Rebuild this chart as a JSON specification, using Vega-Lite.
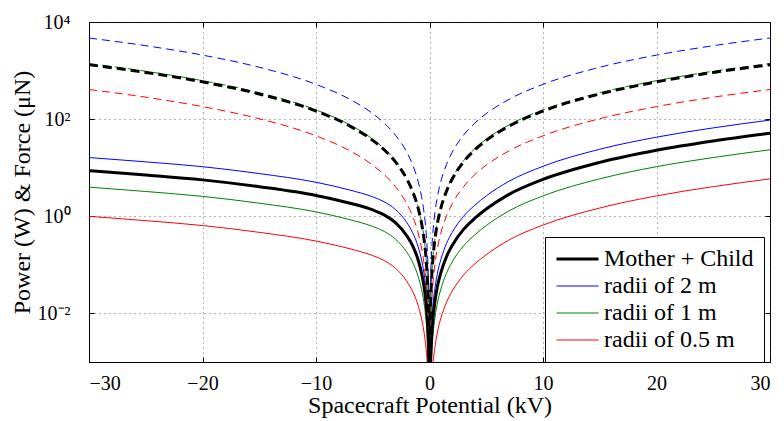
{
"$schema":"https://vega.github.io/schema/vega-lite/v6.json",
"width":681,"height":340,
"autosize":{"type":"none"},
"padding":{"left":89,"top":22,"right":14,"bottom":59},
"background":"white",
"config":{
 "view":{"stroke":"black","strokeWidth":1},
 "font":"Liberation Serif",
 "axis":{"labelFont":"Liberation Serif","titleFont":"Liberation Serif","labelFontSize":20,"titleFontSize":24,"titleFontWeight":"normal","labelColor":"black","titleColor":"black","tickColor":"black","domainColor":"black","tickSize":-5,"gridDash":[1,4],"gridColor":"#333333","gridOpacity":0.75},
 "legend":{"orient":"none","legendX":456,"legendY":215,"symbolType":"M-1,0L3,0","symbolSize":441,"labelFont":"Liberation Serif","labelFontSize":24,"labelColor":"black","padding":10,"strokeColor":"black","fillColor":"white","labelOffset":25,"rowPadding":3,"cornerRadius":0,"symbolFillColor":"transparent"}
},
"data":{"values":[
{"s":"Mother + Child","d":0,"V":-30,"P":8.71},{"s":"Mother + Child","d":0,"V":-25,"P":7.08},{"s":"Mother + Child","d":0,"V":-20,"P":5.62},{"s":"Mother + Child","d":0,"V":-15,"P":4.07},{"s":"Mother + Child","d":0,"V":-10,"P":2.69},{"s":"Mother + Child","d":0,"V":-7,"P":1.86},{"s":"Mother + Child","d":0,"V":-5,"P":1.35},{"s":"Mother + Child","d":0,"V":-4,"P":1.07},{"s":"Mother + Child","d":0,"V":-3,"P":0.741},{"s":"Mother + Child","d":0,"V":-2,"P":0.398},{"s":"Mother + Child","d":0,"V":-1.5,"P":0.251},{"s":"Mother + Child","d":0,"V":-1,"P":0.126},{"s":"Mother + Child","d":0,"V":-0.7,"P":0.0676},{"s":"Mother + Child","d":0,"V":-0.5,"P":0.038},{"s":"Mother + Child","d":0,"V":-0.3,"P":0.0158},{"s":"Mother + Child","d":0,"V":-0.2,"P":0.00794},{"s":"Mother + Child","d":0,"V":-0.1,"P":0.00224},{"s":"Mother + Child","d":0,"V":-0.05,"P":0.000708},{"s":"Mother + Child","d":0,"V":0,"P":0.00001},{"s":"Mother + Child","d":0,"V":0.05,"P":0.000316},{"s":"Mother + Child","d":0,"V":0.1,"P":0.001},{"s":"Mother + Child","d":0,"V":0.2,"P":0.00355},{"s":"Mother + Child","d":0,"V":0.3,"P":0.00759},{"s":"Mother + Child","d":0,"V":0.5,"P":0.0191},{"s":"Mother + Child","d":0,"V":0.7,"P":0.0363},{"s":"Mother + Child","d":0,"V":1,"P":0.0692},{"s":"Mother + Child","d":0,"V":1.5,"P":0.148},{"s":"Mother + Child","d":0,"V":2,"P":0.251},{"s":"Mother + Child","d":0,"V":3,"P":0.537},{"s":"Mother + Child","d":0,"V":4,"P":0.912},{"s":"Mother + Child","d":0,"V":5,"P":1.41},{"s":"Mother + Child","d":0,"V":7,"P":2.82},{"s":"Mother + Child","d":0,"V":10,"P":5.75},{"s":"Mother + Child","d":0,"V":15,"P":12.9},{"s":"Mother + Child","d":0,"V":20,"P":22.9},{"s":"Mother + Child","d":0,"V":25,"P":35.5},{"s":"Mother + Child","d":0,"V":30,"P":51.3},
{"s":"radii of 2 m","d":0,"V":-30,"P":16.2},{"s":"radii of 2 m","d":0,"V":-25,"P":13.2},{"s":"radii of 2 m","d":0,"V":-20,"P":10.5},{"s":"radii of 2 m","d":0,"V":-15,"P":7.58},{"s":"radii of 2 m","d":0,"V":-10,"P":5.01},{"s":"radii of 2 m","d":0,"V":-7,"P":3.46},{"s":"radii of 2 m","d":0,"V":-5,"P":2.51},{"s":"radii of 2 m","d":0,"V":-4,"P":1.99},{"s":"radii of 2 m","d":0,"V":-3,"P":1.38},{"s":"radii of 2 m","d":0,"V":-2,"P":0.741},{"s":"radii of 2 m","d":0,"V":-1.5,"P":0.467},{"s":"radii of 2 m","d":0,"V":-1,"P":0.235},{"s":"radii of 2 m","d":0,"V":-0.7,"P":0.126},{"s":"radii of 2 m","d":0,"V":-0.5,"P":0.0708},{"s":"radii of 2 m","d":0,"V":-0.3,"P":0.0294},{"s":"radii of 2 m","d":0,"V":-0.2,"P":0.0148},{"s":"radii of 2 m","d":0,"V":-0.1,"P":0.00417},{"s":"radii of 2 m","d":0,"V":-0.05,"P":0.00132},{"s":"radii of 2 m","d":0,"V":0,"P":0.00001},{"s":"radii of 2 m","d":0,"V":0.05,"P":0.000588},{"s":"radii of 2 m","d":0,"V":0.1,"P":0.00186},{"s":"radii of 2 m","d":0,"V":0.2,"P":0.00661},{"s":"radii of 2 m","d":0,"V":0.3,"P":0.0141},{"s":"radii of 2 m","d":0,"V":0.5,"P":0.0356},{"s":"radii of 2 m","d":0,"V":0.7,"P":0.0676},{"s":"radii of 2 m","d":0,"V":1,"P":0.129},{"s":"radii of 2 m","d":0,"V":1.5,"P":0.276},{"s":"radii of 2 m","d":0,"V":2,"P":0.467},{"s":"radii of 2 m","d":0,"V":3,"P":1.0},{"s":"radii of 2 m","d":0,"V":4,"P":1.7},{"s":"radii of 2 m","d":0,"V":5,"P":2.63},{"s":"radii of 2 m","d":0,"V":7,"P":5.25},{"s":"radii of 2 m","d":0,"V":10,"P":10.7},{"s":"radii of 2 m","d":0,"V":15,"P":24.0},{"s":"radii of 2 m","d":0,"V":20,"P":42.6},{"s":"radii of 2 m","d":0,"V":25,"P":66.1},{"s":"radii of 2 m","d":0,"V":30,"P":95.5},
{"s":"radii of 1 m","d":0,"V":-30,"P":3.98},{"s":"radii of 1 m","d":0,"V":-25,"P":3.24},{"s":"radii of 1 m","d":0,"V":-20,"P":2.57},{"s":"radii of 1 m","d":0,"V":-15,"P":1.86},{"s":"radii of 1 m","d":0,"V":-10,"P":1.23},{"s":"radii of 1 m","d":0,"V":-7,"P":0.85},{"s":"radii of 1 m","d":0,"V":-5,"P":0.617},{"s":"radii of 1 m","d":0,"V":-4,"P":0.489},{"s":"radii of 1 m","d":0,"V":-3,"P":0.339},{"s":"radii of 1 m","d":0,"V":-2,"P":0.182},{"s":"radii of 1 m","d":0,"V":-1.5,"P":0.115},{"s":"radii of 1 m","d":0,"V":-1,"P":0.0576},{"s":"radii of 1 m","d":0,"V":-0.7,"P":0.0309},{"s":"radii of 1 m","d":0,"V":-0.5,"P":0.0174},{"s":"radii of 1 m","d":0,"V":-0.3,"P":0.00722},{"s":"radii of 1 m","d":0,"V":-0.2,"P":0.00363},{"s":"radii of 1 m","d":0,"V":-0.1,"P":0.00102},{"s":"radii of 1 m","d":0,"V":-0.05,"P":0.000324},{"s":"radii of 1 m","d":0,"V":0,"P":0.00001},{"s":"radii of 1 m","d":0,"V":0.05,"P":0.000144},{"s":"radii of 1 m","d":0,"V":0.1,"P":0.000457},{"s":"radii of 1 m","d":0,"V":0.2,"P":0.00162},{"s":"radii of 1 m","d":0,"V":0.3,"P":0.00347},{"s":"radii of 1 m","d":0,"V":0.5,"P":0.00873},{"s":"radii of 1 m","d":0,"V":0.7,"P":0.0166},{"s":"radii of 1 m","d":0,"V":1,"P":0.0316},{"s":"radii of 1 m","d":0,"V":1.5,"P":0.0676},{"s":"radii of 1 m","d":0,"V":2,"P":0.115},{"s":"radii of 1 m","d":0,"V":3,"P":0.245},{"s":"radii of 1 m","d":0,"V":4,"P":0.417},{"s":"radii of 1 m","d":0,"V":5,"P":0.644},{"s":"radii of 1 m","d":0,"V":7,"P":1.29},{"s":"radii of 1 m","d":0,"V":10,"P":2.63},{"s":"radii of 1 m","d":0,"V":15,"P":5.9},{"s":"radii of 1 m","d":0,"V":20,"P":10.5},{"s":"radii of 1 m","d":0,"V":25,"P":16.2},{"s":"radii of 1 m","d":0,"V":30,"P":23.4},
{"s":"radii of 0.5 m","d":0,"V":-30,"P":1.0},{"s":"radii of 0.5 m","d":0,"V":-25,"P":0.813},{"s":"radii of 0.5 m","d":0,"V":-20,"P":0.645},{"s":"radii of 0.5 m","d":0,"V":-15,"P":0.467},{"s":"radii of 0.5 m","d":0,"V":-10,"P":0.309},{"s":"radii of 0.5 m","d":0,"V":-7,"P":0.214},{"s":"radii of 0.5 m","d":0,"V":-5,"P":0.155},{"s":"radii of 0.5 m","d":0,"V":-4,"P":0.123},{"s":"radii of 0.5 m","d":0,"V":-3,"P":0.0851},{"s":"radii of 0.5 m","d":0,"V":-2,"P":0.0457},{"s":"radii of 0.5 m","d":0,"V":-1.5,"P":0.0288},{"s":"radii of 0.5 m","d":0,"V":-1,"P":0.0145},{"s":"radii of 0.5 m","d":0,"V":-0.7,"P":0.00776},{"s":"radii of 0.5 m","d":0,"V":-0.5,"P":0.00436},{"s":"radii of 0.5 m","d":0,"V":-0.3,"P":0.00181},{"s":"radii of 0.5 m","d":0,"V":-0.2,"P":0.000912},{"s":"radii of 0.5 m","d":0,"V":-0.1,"P":0.000257},{"s":"radii of 0.5 m","d":0,"V":-0.05,"P":0.0000813},{"s":"radii of 0.5 m","d":0,"V":0,"P":0.00001},{"s":"radii of 0.5 m","d":0,"V":0.05,"P":0.0000363},{"s":"radii of 0.5 m","d":0,"V":0.1,"P":0.000115},{"s":"radii of 0.5 m","d":0,"V":0.2,"P":0.000408},{"s":"radii of 0.5 m","d":0,"V":0.3,"P":0.000871},{"s":"radii of 0.5 m","d":0,"V":0.5,"P":0.00219},{"s":"radii of 0.5 m","d":0,"V":0.7,"P":0.00417},{"s":"radii of 0.5 m","d":0,"V":1,"P":0.00794},{"s":"radii of 0.5 m","d":0,"V":1.5,"P":0.017},{"s":"radii of 0.5 m","d":0,"V":2,"P":0.0288},{"s":"radii of 0.5 m","d":0,"V":3,"P":0.0617},{"s":"radii of 0.5 m","d":0,"V":4,"P":0.105},{"s":"radii of 0.5 m","d":0,"V":5,"P":0.162},{"s":"radii of 0.5 m","d":0,"V":7,"P":0.324},{"s":"radii of 0.5 m","d":0,"V":10,"P":0.66},{"s":"radii of 0.5 m","d":0,"V":15,"P":1.48},{"s":"radii of 0.5 m","d":0,"V":20,"P":2.63},{"s":"radii of 0.5 m","d":0,"V":25,"P":4.08},{"s":"radii of 0.5 m","d":0,"V":30,"P":5.89},
{"s":"radii of 2 m","d":1,"V":-30,"P":4677},{"s":"radii of 2 m","d":1,"V":-25,"P":3251},{"s":"radii of 2 m","d":1,"V":-20,"P":2080},{"s":"radii of 2 m","d":1,"V":-15,"P":1169},{"s":"radii of 2 m","d":1,"V":-10,"P":520},{"s":"radii of 2 m","d":1,"V":-7,"P":255},{"s":"radii of 2 m","d":1,"V":-5,"P":130},{"s":"radii of 2 m","d":1,"V":-4,"P":83.2},{"s":"radii of 2 m","d":1,"V":-3,"P":46.8},{"s":"radii of 2 m","d":1,"V":-2,"P":20.8},{"s":"radii of 2 m","d":1,"V":-1.5,"P":11.7},{"s":"radii of 2 m","d":1,"V":-1,"P":5.2},{"s":"radii of 2 m","d":1,"V":-0.7,"P":2.55},{"s":"radii of 2 m","d":1,"V":-0.5,"P":1.3},{"s":"radii of 2 m","d":1,"V":-0.3,"P":0.468},{"s":"radii of 2 m","d":1,"V":-0.2,"P":0.208},{"s":"radii of 2 m","d":1,"V":-0.1,"P":0.052},{"s":"radii of 2 m","d":1,"V":-0.05,"P":0.013},{"s":"radii of 2 m","d":1,"V":0,"P":0.00001},{"s":"radii of 2 m","d":1,"V":0.05,"P":0.013},{"s":"radii of 2 m","d":1,"V":0.1,"P":0.052},{"s":"radii of 2 m","d":1,"V":0.2,"P":0.208},{"s":"radii of 2 m","d":1,"V":0.3,"P":0.468},{"s":"radii of 2 m","d":1,"V":0.5,"P":1.3},{"s":"radii of 2 m","d":1,"V":0.7,"P":2.55},{"s":"radii of 2 m","d":1,"V":1,"P":5.2},{"s":"radii of 2 m","d":1,"V":1.5,"P":11.7},{"s":"radii of 2 m","d":1,"V":2,"P":20.8},{"s":"radii of 2 m","d":1,"V":3,"P":46.8},{"s":"radii of 2 m","d":1,"V":4,"P":83.2},{"s":"radii of 2 m","d":1,"V":5,"P":130},{"s":"radii of 2 m","d":1,"V":7,"P":255},{"s":"radii of 2 m","d":1,"V":10,"P":520},{"s":"radii of 2 m","d":1,"V":15,"P":1169},{"s":"radii of 2 m","d":1,"V":20,"P":2080},{"s":"radii of 2 m","d":1,"V":25,"P":3251},{"s":"radii of 2 m","d":1,"V":30,"P":4677},
{"s":"radii of 0.5 m","d":1,"V":-30,"P":407},{"s":"radii of 0.5 m","d":1,"V":-25,"P":283},{"s":"radii of 0.5 m","d":1,"V":-20,"P":181},{"s":"radii of 0.5 m","d":1,"V":-15,"P":102},{"s":"radii of 0.5 m","d":1,"V":-10,"P":45.3},{"s":"radii of 0.5 m","d":1,"V":-7,"P":22.2},{"s":"radii of 0.5 m","d":1,"V":-5,"P":11.3},{"s":"radii of 0.5 m","d":1,"V":-4,"P":7.24},{"s":"radii of 0.5 m","d":1,"V":-3,"P":4.07},{"s":"radii of 0.5 m","d":1,"V":-2,"P":1.81},{"s":"radii of 0.5 m","d":1,"V":-1.5,"P":1.02},{"s":"radii of 0.5 m","d":1,"V":-1,"P":0.453},{"s":"radii of 0.5 m","d":1,"V":-0.7,"P":0.222},{"s":"radii of 0.5 m","d":1,"V":-0.5,"P":0.113},{"s":"radii of 0.5 m","d":1,"V":-0.3,"P":0.0407},{"s":"radii of 0.5 m","d":1,"V":-0.2,"P":0.0181},{"s":"radii of 0.5 m","d":1,"V":-0.1,"P":0.00453},{"s":"radii of 0.5 m","d":1,"V":-0.05,"P":0.00113},{"s":"radii of 0.5 m","d":1,"V":0,"P":0.00001},{"s":"radii of 0.5 m","d":1,"V":0.05,"P":0.00113},{"s":"radii of 0.5 m","d":1,"V":0.1,"P":0.00453},{"s":"radii of 0.5 m","d":1,"V":0.2,"P":0.0181},{"s":"radii of 0.5 m","d":1,"V":0.3,"P":0.0407},{"s":"radii of 0.5 m","d":1,"V":0.5,"P":0.113},{"s":"radii of 0.5 m","d":1,"V":0.7,"P":0.222},{"s":"radii of 0.5 m","d":1,"V":1,"P":0.453},{"s":"radii of 0.5 m","d":1,"V":1.5,"P":1.02},{"s":"radii of 0.5 m","d":1,"V":2,"P":1.81},{"s":"radii of 0.5 m","d":1,"V":3,"P":4.07},{"s":"radii of 0.5 m","d":1,"V":4,"P":7.24},{"s":"radii of 0.5 m","d":1,"V":5,"P":11.3},{"s":"radii of 0.5 m","d":1,"V":7,"P":22.2},{"s":"radii of 0.5 m","d":1,"V":10,"P":45.3},{"s":"radii of 0.5 m","d":1,"V":15,"P":102},{"s":"radii of 0.5 m","d":1,"V":20,"P":181},{"s":"radii of 0.5 m","d":1,"V":25,"P":283},{"s":"radii of 0.5 m","d":1,"V":30,"P":407},
{"s":"radii of 1 m","d":1,"V":-30,"P":1393},{"s":"radii of 1 m","d":1,"V":-25,"P":968},{"s":"radii of 1 m","d":1,"V":-20,"P":619},{"s":"radii of 1 m","d":1,"V":-15,"P":349},{"s":"radii of 1 m","d":1,"V":-10,"P":155},{"s":"radii of 1 m","d":1,"V":-7,"P":75.9},{"s":"radii of 1 m","d":1,"V":-5,"P":38.7},{"s":"radii of 1 m","d":1,"V":-4,"P":24.7},{"s":"radii of 1 m","d":1,"V":-3,"P":13.9},{"s":"radii of 1 m","d":1,"V":-2,"P":6.19},{"s":"radii of 1 m","d":1,"V":-1.5,"P":3.49},{"s":"radii of 1 m","d":1,"V":-1,"P":1.55},{"s":"radii of 1 m","d":1,"V":-0.7,"P":0.759},{"s":"radii of 1 m","d":1,"V":-0.5,"P":0.387},{"s":"radii of 1 m","d":1,"V":-0.3,"P":0.139},{"s":"radii of 1 m","d":1,"V":-0.2,"P":0.0619},{"s":"radii of 1 m","d":1,"V":-0.1,"P":0.0155},{"s":"radii of 1 m","d":1,"V":-0.05,"P":0.00387},{"s":"radii of 1 m","d":1,"V":0,"P":0.00001},{"s":"radii of 1 m","d":1,"V":0.05,"P":0.00387},{"s":"radii of 1 m","d":1,"V":0.1,"P":0.0155},{"s":"radii of 1 m","d":1,"V":0.2,"P":0.0619},{"s":"radii of 1 m","d":1,"V":0.3,"P":0.139},{"s":"radii of 1 m","d":1,"V":0.5,"P":0.387},{"s":"radii of 1 m","d":1,"V":0.7,"P":0.759},{"s":"radii of 1 m","d":1,"V":1,"P":1.55},{"s":"radii of 1 m","d":1,"V":1.5,"P":3.49},{"s":"radii of 1 m","d":1,"V":2,"P":6.19},{"s":"radii of 1 m","d":1,"V":3,"P":13.9},{"s":"radii of 1 m","d":1,"V":4,"P":24.7},{"s":"radii of 1 m","d":1,"V":5,"P":38.7},{"s":"radii of 1 m","d":1,"V":7,"P":75.9},{"s":"radii of 1 m","d":1,"V":10,"P":155},{"s":"radii of 1 m","d":1,"V":15,"P":349},{"s":"radii of 1 m","d":1,"V":20,"P":619},{"s":"radii of 1 m","d":1,"V":25,"P":968},{"s":"radii of 1 m","d":1,"V":30,"P":1393},
{"s":"Mother + Child","d":1,"V":-30,"P":1318},{"s":"Mother + Child","d":1,"V":-25,"P":916},{"s":"Mother + Child","d":1,"V":-20,"P":586},{"s":"Mother + Child","d":1,"V":-15,"P":330},{"s":"Mother + Child","d":1,"V":-10,"P":147},{"s":"Mother + Child","d":1,"V":-7,"P":71.8},{"s":"Mother + Child","d":1,"V":-5,"P":36.6},{"s":"Mother + Child","d":1,"V":-4,"P":23.4},{"s":"Mother + Child","d":1,"V":-3,"P":13.2},{"s":"Mother + Child","d":1,"V":-2,"P":5.86},{"s":"Mother + Child","d":1,"V":-1.5,"P":3.3},{"s":"Mother + Child","d":1,"V":-1,"P":1.47},{"s":"Mother + Child","d":1,"V":-0.7,"P":0.718},{"s":"Mother + Child","d":1,"V":-0.5,"P":0.366},{"s":"Mother + Child","d":1,"V":-0.3,"P":0.132},{"s":"Mother + Child","d":1,"V":-0.2,"P":0.0586},{"s":"Mother + Child","d":1,"V":-0.1,"P":0.0147},{"s":"Mother + Child","d":1,"V":-0.05,"P":0.00366},{"s":"Mother + Child","d":1,"V":0,"P":0.00001},{"s":"Mother + Child","d":1,"V":0.05,"P":0.00366},{"s":"Mother + Child","d":1,"V":0.1,"P":0.0147},{"s":"Mother + Child","d":1,"V":0.2,"P":0.0586},{"s":"Mother + Child","d":1,"V":0.3,"P":0.132},{"s":"Mother + Child","d":1,"V":0.5,"P":0.366},{"s":"Mother + Child","d":1,"V":0.7,"P":0.718},{"s":"Mother + Child","d":1,"V":1,"P":1.47},{"s":"Mother + Child","d":1,"V":1.5,"P":3.3},{"s":"Mother + Child","d":1,"V":2,"P":5.86},{"s":"Mother + Child","d":1,"V":3,"P":13.2},{"s":"Mother + Child","d":1,"V":4,"P":23.4},{"s":"Mother + Child","d":1,"V":5,"P":36.6},{"s":"Mother + Child","d":1,"V":7,"P":71.8},{"s":"Mother + Child","d":1,"V":10,"P":147},{"s":"Mother + Child","d":1,"V":15,"P":330},{"s":"Mother + Child","d":1,"V":20,"P":586},{"s":"Mother + Child","d":1,"V":25,"P":916},{"s":"Mother + Child","d":1,"V":30,"P":1318}
]},
"layer":[
 {
  "transform":[{"filter":"datum.d == 0 && datum.s != 'Mother + Child'"}],
  "mark":{"type":"line","clip":true,"interpolate":"monotone"},
  "encoding":{
   "x":{"field":"V","type":"quantitative","scale":{"domain":[-30,30],"nice":false,"zero":false},
        "axis":{"orient":"bottom","values":[-30,-20,-10,0,10,20,30],"grid":true,"title":"Spacecraft Potential (kV)","labelPadding":16,"titlePadding":0}},
   "y":{"field":"P","type":"quantitative","scale":{"type":"log","domain":[0.001,10000],"nice":false},
        "axis":{"orient":"left","values":[0.01,1,100,10000],"grid":true,"title":"Power (W) & Force (μN)","labelPadding":24,"titlePadding":3,
        "labelExpr":"datum.value >= 5000 ? '10⁴' : datum.value >= 50 ? '10²' : datum.value >= 0.5 ? '10⁰' : '10⁻²'"}},
   "color":{"field":"s","type":"nominal","scale":{"domain":["Mother + Child","radii of 2 m","radii of 1 m","radii of 0.5 m"],"range":["#000000","#0000ff","#008000","#ff0000"]},"legend":{"title":null}},
   "strokeWidth":{"field":"s","type":"nominal","scale":{"type":"ordinal","domain":["Mother + Child","radii of 2 m","radii of 1 m","radii of 0.5 m"],"range":[3,1,1,1]},"legend":{"title":null}}
  }
 },
 {
  "transform":[{"filter":"datum.d == 0 && datum.s == 'Mother + Child'"}],
  "mark":{"type":"line","clip":true,"interpolate":"monotone"},
  "encoding":{
   "x":{"field":"V","type":"quantitative","axis":null},
   "y":{"field":"P","type":"quantitative","axis":null},
   "color":{"field":"s","type":"nominal","scale":{"domain":["Mother + Child","radii of 2 m","radii of 1 m","radii of 0.5 m"],"range":["#000000","#0000ff","#008000","#ff0000"]},"legend":null},
   "strokeWidth":{"field":"s","type":"nominal","scale":{"type":"ordinal","domain":["Mother + Child","radii of 2 m","radii of 1 m","radii of 0.5 m"],"range":[3,1,1,1]},"legend":null}
  }
 },
 {
  "transform":[{"filter":"datum.d == 1 && datum.s != 'Mother + Child'"}],
  "mark":{"type":"line","clip":true,"interpolate":"monotone","strokeDash":[8,5]},
  "encoding":{
   "x":{"field":"V","type":"quantitative","axis":null},
   "y":{"field":"P","type":"quantitative","axis":null},
   "color":{"field":"s","type":"nominal","scale":{"domain":["Mother + Child","radii of 2 m","radii of 1 m","radii of 0.5 m"],"range":["#000000","#0000ff","#008000","#ff0000"]},"legend":null},
   "strokeWidth":{"field":"s","type":"nominal","scale":{"type":"ordinal","domain":["Mother + Child","radii of 2 m","radii of 1 m","radii of 0.5 m"],"range":[3,1,1,1]},"legend":null}
  }
 },
 {
  "transform":[{"filter":"datum.d == 1 && datum.s == 'Mother + Child'"}],
  "mark":{"type":"line","clip":true,"interpolate":"monotone","strokeDash":[9,5]},
  "encoding":{
   "x":{"field":"V","type":"quantitative","axis":{"orient":"top","values":[-30,-20,-10,0,10,20,30],"labels":false,"title":null,"grid":false,"domain":false}},
   "y":{"field":"P","type":"quantitative","axis":{"orient":"right","values":[0.01,1,100,10000],"labels":false,"title":null,"grid":false,"domain":false}},
   "color":{"field":"s","type":"nominal","scale":{"domain":["Mother + Child","radii of 2 m","radii of 1 m","radii of 0.5 m"],"range":["#000000","#0000ff","#008000","#ff0000"]},"legend":null},
   "strokeWidth":{"field":"s","type":"nominal","scale":{"type":"ordinal","domain":["Mother + Child","radii of 2 m","radii of 1 m","radii of 0.5 m"],"range":[3,1,1,1]},"legend":null}
  }
 }
],
"resolve":{"axis":{"x":"independent","y":"independent"}}
}
